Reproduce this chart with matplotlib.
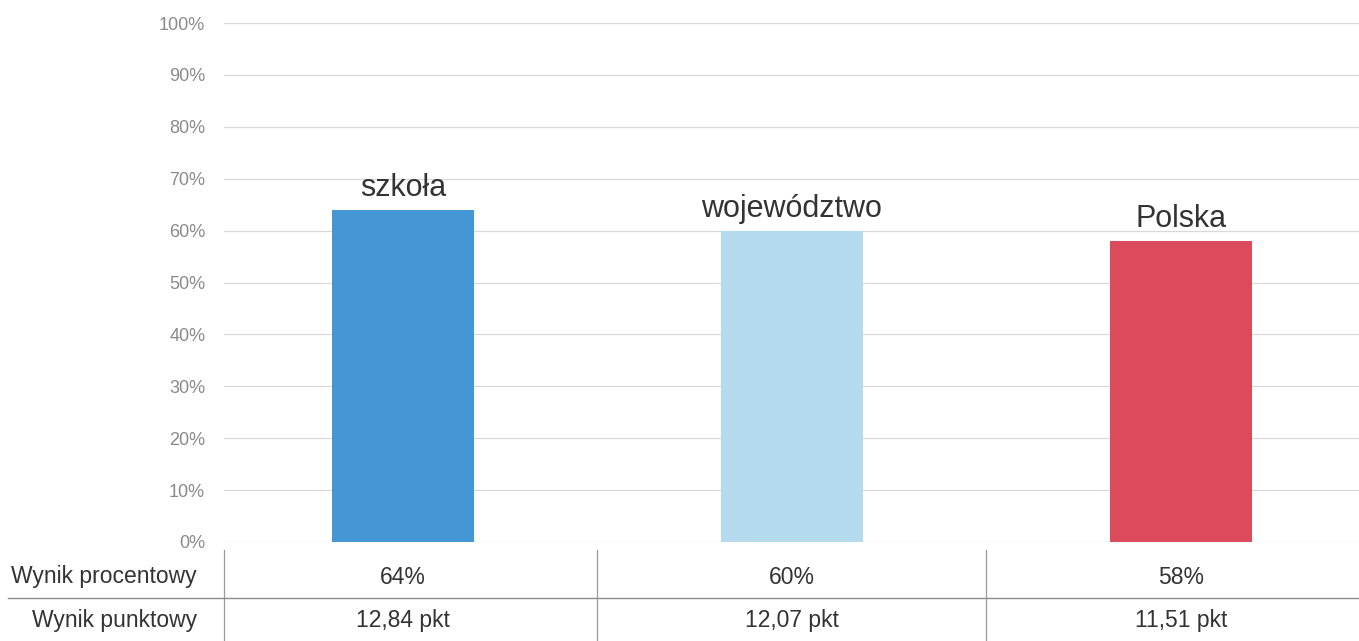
import matplotlib.pyplot as plt
import matplotlib.transforms as mtransforms
from matplotlib.lines import Line2D

# chart data
categories = ["szkoła", "województwo", "Polska"]
percent = [64, 60, 58]
percent_labels = ["64%", "60%", "58%"]
points_labels = ["12,84 pkt", "12,07 pkt", "11,51 pkt"]
row_labels = ["Wynik procentowy", "Wynik punktowy"]
bar_colors = ["#4496d5", "#b5daee", "#dc4b5b"]
yticks = list(range(0, 101, 10))

plt.rcParams["font.family"] = ["Liberation Sans", "DejaVu Sans"]

W, H = 1359, 641
fig = plt.figure(figsize=(W / 100, H / 100), dpi=100)

# axes extend a little past the right edge like in the scan
x_lo, x_hi = -0.46, 2.5
cat_px = 389
left_px, top_px, bottom_px = 224, 23, 542
ax = fig.add_axes([left_px / W, 1 - bottom_px / H,
                   (x_hi - x_lo) * cat_px / W, (bottom_px - top_px) / H])

x = list(range(len(categories)))
bars = ax.bar(x, percent, width=0.367, color=bar_colors, zorder=2)

# category names above the bars
for xi, val, name in zip(x, percent, categories):
    ax.annotate(name, (xi, val), xytext=(0, 10), textcoords="offset points",
                ha="center", va="baseline", fontsize=22, color="#333333")

ax.set_xlim(x_lo, x_hi)
ax.set_ylim(0, 100)
ax.set_yticks(yticks)
ax.set_yticklabels([f"{t}%" for t in yticks], fontsize=13, color="#8a8a8a")
ax.tick_params(axis="y", length=0, pad=13.5)
ax.set_xticks([])
ax.grid(axis="y", color="#d9d9d9", linewidth=0.9, zorder=0)
for s in ax.spines.values():
    s.set_visible(False)

# data table below the axis
blend = mtransforms.blended_transform_factory(ax.transData, fig.transFigure)
row1_y = 1 - 577 / H
row2_y = 1 - 620 / H
for xi, p, q in zip(x, percent_labels, points_labels):
    ax.text(xi, row1_y, p, transform=blend, ha="center", va="center",
            fontsize=16.5, color="#333333")
    ax.text(xi, row2_y, q, transform=blend, ha="center", va="center",
            fontsize=16.5, color="#333333")

label_x = 197 / W
fig.text(label_x, row1_y, row_labels[0], ha="right", va="center",
         fontsize=16.5, color="#333333")
fig.text(label_x, row2_y, row_labels[1], ha="right", va="center",
         fontsize=16.5, color="#333333")

# table grid lines
for xv in [x_lo, 0.5, 1.5]:
    ax.plot([xv, xv], [1 - 550 / H, 0], transform=blend, color="#9a9a9a",
            linewidth=0.9, clip_on=False)
fig.add_artist(Line2D([8 / W, 1], [1 - 598 / H, 1 - 598 / H],
                      color="#8c8c8c", linewidth=1.0))

plt.savefig("out.png", dpi=100)
